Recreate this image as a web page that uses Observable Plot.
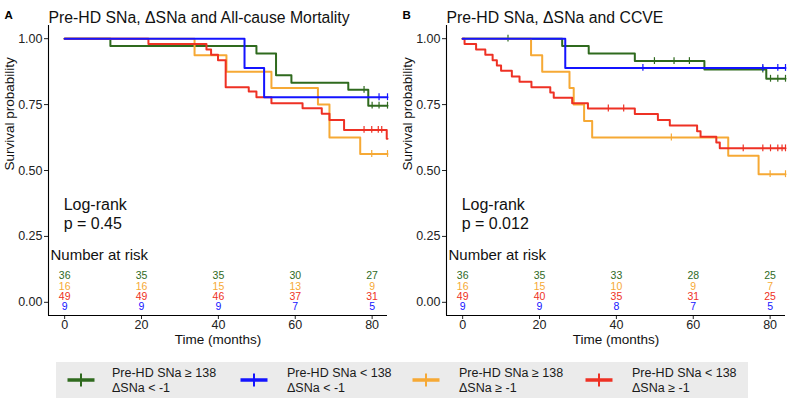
<!DOCTYPE html>
<html><head><meta charset="utf-8">
<script src="https://cdn.jsdelivr.net/npm/d3@7"></script>
<script src="https://cdn.jsdelivr.net/npm/@observablehq/plot@0.6"></script>
<style>
body{margin:0;background:#fff;font-family:"Liberation Sans",Arial,sans-serif;}
#wrap{position:relative;width:790px;height:402px;overflow:hidden;}
.panel{position:absolute;top:0;}
#legend{position:absolute;left:56px;top:362px;width:692px;height:36px;background:#ebebeb;}
.item{position:absolute;top:0;height:36px;}
.item svg{position:absolute;top:0;}
.item .lab{position:absolute;top:4px;font-size:12.5px;line-height:15px;color:#1a1a1a;white-space:nowrap;}
</style></head><body>
<div id="wrap">
  <div id="pa" class="panel" style="left:0px"></div>
  <div id="pb" class="panel" style="left:395px"></div>
  <div id="legend"></div>
</div>
<script>
// ---- groups (legend order) ----
const groupKeys = ["g1","g2","g3","g4"];
const groupLine1 = ["Pre-HD SNa \u2265 138","Pre-HD SNa < 138","Pre-HD SNa \u2265 138","Pre-HD SNa < 138"];
const groupLine2 = ["\u0394SNa < -1","\u0394SNa < -1","\u0394SNa \u2265 -1","\u0394SNa \u2265 -1"];
const groupColors = ["#2f6a1e","#1414ff","#f6a935","#ee3124"];

const riskTimes = [0,20,40,60,80];
const endTime = 84;

// ---- Panel A: all-cause mortality ----
const titleA = "Pre-HD SNa, \u0394SNa and All-cause Mortality";
const pA = "p = 0.45";
const A_g1_t = [11.9,49.9,55,59,73.8,79];
const A_g1_s = [0.972,0.944,0.861,0.833,0.806,0.746];
const A_g1_c = [77.9,80,81.8,84];
const A_g2_t = [46.8,51.9];
const A_g2_s = [0.889,0.778];
const A_g2_c = [81.8,84];
const A_g3_t = [33.8,42.1,53.8,65.9,68.9,76.9];
const A_g3_s = [0.9375,0.875,0.8125,0.75,0.625,0.5625];
const A_g3_c = [79.9,84];
const A_g4_t = [21.8,36.9,38.1,39.9,41.9,47.9,49.9,53.8,61.9,66.9,68.9,72.7,83.8];
const A_g4_s = [0.98,0.959,0.939,0.918,0.816,0.8,0.778,0.755,0.736,0.715,0.692,0.654,0.62];
const A_g4_c = [77.9,79.9,81.6,82.5];
const A_risk_g1 = [36,35,35,30,27];
const A_risk_g2 = [9,9,9,7,5];
const A_risk_g3 = [16,16,15,13,9];
const A_risk_g4 = [49,49,46,37,31];

// ---- Panel B: CCVE ----
const titleB = "Pre-HD SNa, \u0394SNa and CCVE";
const pB = "p = 0.012";
const B_g1_t = [25.9,32.8,44.8,62.9,79];
const B_g1_s = [0.972,0.944,0.915,0.883,0.848];
const B_g1_c = [11.8,49.9,55,59,78.1,80.1,82,84];
const B_g2_t = [26.7];
const B_g2_s = [0.889];
const B_g2_c = [46.9,78.1,82,84];
const B_g3_t = [17.8,20.7,27.8,28.9,31.6,33.7,69.1,77];
const B_g3_s = [0.9375,0.875,0.8125,0.75,0.6875,0.625,0.556,0.486];
const B_g3_c = [54.3,80,84];
const B_g4_t = [0.5,3.5,5.9,7.8,8.9,10,12.8,14.8,17.9,22.8,23.7,28.5,32.6,44.8,50.8,53.9,61,61.9,66,66.9];
const B_g4_s = [0.98,0.959,0.939,0.918,0.898,0.878,0.857,0.837,0.816,0.796,0.776,0.755,0.735,0.714,0.692,0.671,0.649,0.628,0.606,0.584];
const B_g4_c = [37.9,41.9,73,78.1,80.1,82,83.1,84];
const B_risk_g1 = [36,35,33,28,25];
const B_risk_g2 = [9,9,8,7,5];
const B_risk_g3 = [16,15,10,9,7];
const B_risk_g4 = [49,40,35,31,25];

// ---- layout (not data) ----
const riskRowY = {g1:0.102, g3:0.061, g4:0.023, g2:-0.015};
const drawOrder = [0,2,3,1];
const FONT = "Liberation Sans, Arial, Helvetica, sans-serif";

function survAt(times, surv, t){
  let s = 1;
  for (let i=0;i<times.length;i++) if (times[i] <= t) s = surv[i];
  return s;
}
function steps(times, surv){
  const pts = [{t:0,s:1}];
  times.forEach((t,i)=>pts.push({t, s:surv[i]}));
  pts.push({t:endTime, s: surv.length ? surv[surv.length-1] : 1});
  return pts;
}

function panel(opts){
  const {letter, title, pText, curves, risk, ml, mr} = opts;
  const marks = [];
  marks.push(Plot.ruleX([-4.2],{stroke:"#000", strokeWidth:1.1}));
  marks.push(Plot.ruleY([-0.05],{stroke:"#000", strokeWidth:1.1}));
  for (const gi of drawOrder){
    const c = curves[gi];
    const col = groupColors[gi];
    marks.push(Plot.line(steps(c.t, c.s), {x:"t", y:"s", curve:"step-after", stroke:col, strokeWidth:2}));
    const cens = c.c.map(t=>({t, s:survAt(c.t,c.s,t)}));
    marks.push(Plot.ruleX(cens, {x:"t", y1:d=>d.s-0.013, y2:d=>d.s+0.013, stroke:col, strokeWidth:1.2}));
  }
  // number at risk
  groupKeys.forEach((k,gi)=>{
    const rows = riskTimes.map((t,j)=>({t, n:risk[gi][j], y:riskRowY[k]}));
    marks.push(Plot.text(rows, {x:"t", y:"y", text:d=>String(d.n), fill:groupColors[gi], fontSize:10.5, textAnchor:"middle"}));
  });
  marks.push(Plot.text(["Number at risk"], {frameAnchor:"left", y:0.178, dx:2, textAnchor:"start", fontSize:15, fill:"#111"}));
  marks.push(Plot.text(["Log-rank"], {x:0, y:0.371, dx:-1, textAnchor:"start", fontSize:16, fill:"#111"}));
  marks.push(Plot.text([pText], {x:0, y:0.298, dx:-1, textAnchor:"start", fontSize:16, fill:"#111"}));
  // titles & labels
  marks.push(Plot.text([title], {frameAnchor:"top-left", dy:-14, textAnchor:"start", fontSize:15.8, fill:"#111"}));
  marks.push(Plot.text([letter], {frameAnchor:"top-left", dx:-44, dy:-15, textAnchor:"start", fontSize:11.5, fontWeight:"bold", fill:"#000"}));
  marks.push(Plot.text(["Survival probability"], {frameAnchor:"left", dx:-39, rotate:-90, fontSize:13.5, fill:"#111"}));
  marks.push(Plot.text(["Time (months)"], {frameAnchor:"bottom", dy:28, fontSize:13.5, fill:"#111"}));
  return Plot.plot({
    width:395, height:354,
    marginLeft:ml, marginRight:mr, marginTop:25, marginBottom:39,
    style:{fontFamily:FONT, fontSize:"12.5px", color:"#222", background:"transparent", overflow:"visible"},
    x:{domain:[-4.2,84], ticks:riskTimes, tickSize:4, tickPadding:1, label:null},
    y:{domain:[-0.05,1.05], ticks:[0,0.25,0.5,0.75,1], tickFormat:".2f", tickSize:4, tickPadding:2, label:null},
    marks
  });
}

const curvesA = [
  {t:A_g1_t, s:A_g1_s, c:A_g1_c},
  {t:A_g2_t, s:A_g2_s, c:A_g2_c},
  {t:A_g3_t, s:A_g3_s, c:A_g3_c},
  {t:A_g4_t, s:A_g4_s, c:A_g4_c}
];
const curvesB = [
  {t:B_g1_t, s:B_g1_s, c:B_g1_c},
  {t:B_g2_t, s:B_g2_s, c:B_g2_c},
  {t:B_g3_t, s:B_g3_s, c:B_g3_c},
  {t:B_g4_t, s:B_g4_s, c:B_g4_c}
];
document.getElementById("pa").appendChild(panel({letter:"A", title:titleA, pText:pA, curves:curvesA,
  risk:[A_risk_g1,A_risk_g2,A_risk_g3,A_risk_g4], ml:48, mr:8}));
document.getElementById("pb").appendChild(panel({letter:"B", title:titleB, pText:pB, curves:curvesB,
  risk:[B_risk_g1,B_risk_g2,B_risk_g3,B_risk_g4], ml:51, mr:5}));

// legend
const keyX = [25, 198, 370, 543];
const labX = [56, 231, 403, 576];
const leg = document.getElementById("legend");
groupKeys.forEach((k,i)=>{
  const it = document.createElement("div");
  it.className = "item";
  it.style.left = "0px";
  it.innerHTML =
    `<svg width="30" height="36" style="left:${keyX[i]-15}px">`+
    `<line x1="1.5" x2="28.5" y1="18" y2="18" stroke="${groupColors[i]}" stroke-width="3.5"/>`+
    `<line x1="15" x2="15" y1="11.5" y2="24.5" stroke="${groupColors[i]}" stroke-width="2"/></svg>`+
    `<div class="lab" style="left:${labX[i]}px">${groupLine1[i]}<br>${groupLine2[i]}</div>`;
  leg.appendChild(it);
});
</script>
</body></html>
